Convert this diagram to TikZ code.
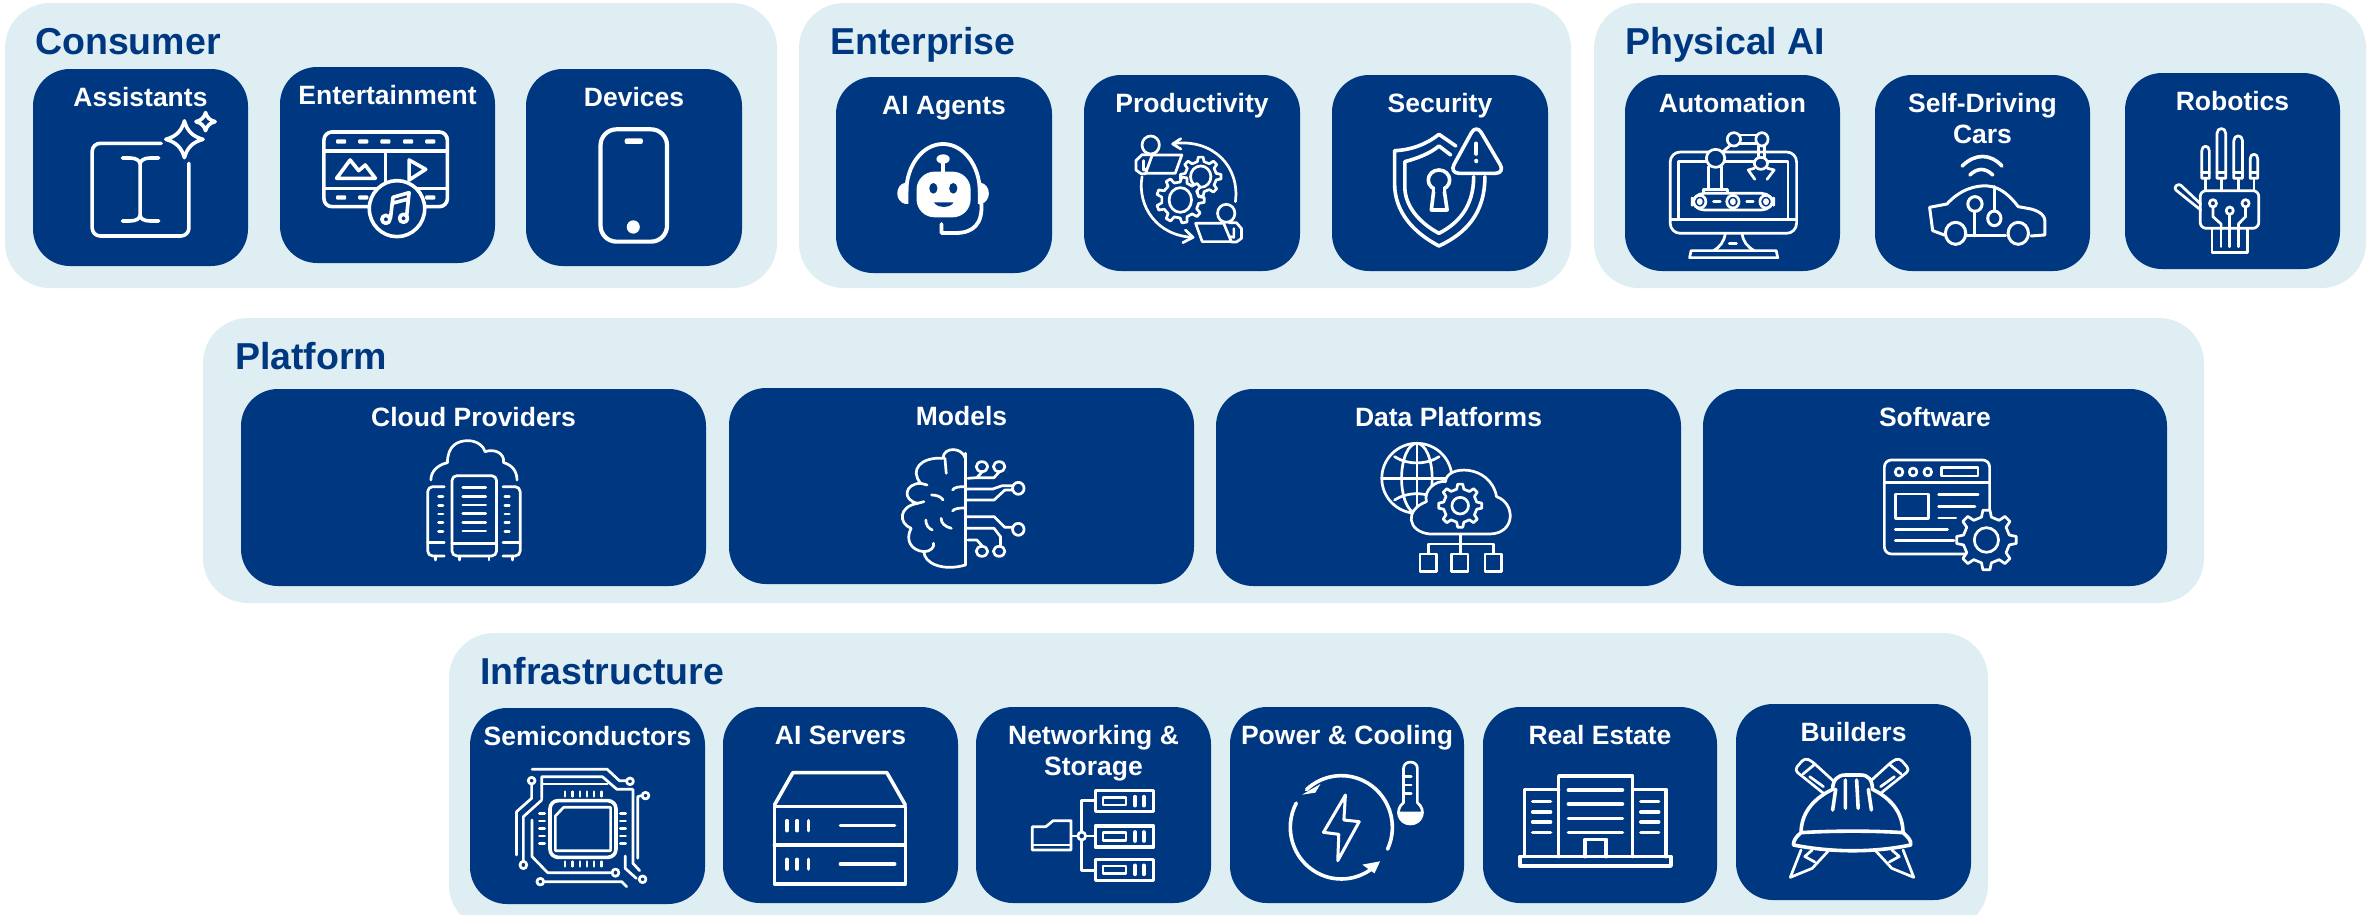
\documentclass[tikz,border=0pt]{standalone}
\usepackage{fontspec}
\setmainfont{Liberation Sans}
\definecolor{navy}{HTML}{003781}
\definecolor{pale}{HTML}{DFEEF2}
\tikzset{
  panelbox/.style={fill=pale,rounded corners=45pt,inner sep=0pt,outer sep=0pt},
  cardbox/.style={fill=navy,rounded corners=37pt,inner sep=0pt,outer sep=0pt},
  paneltitle/.style={anchor=base west,inner sep=0pt,text=navy,font=\fontsize{37.5}{44}\selectfont\bfseries},
  cardtitle/.style={anchor=base,inner sep=0pt,text=white,align=center,font=\fontsize{26.5}{31}\selectfont\bfseries},
  ic/.style={draw=white,line width=3.6pt,line cap=round,line join=round},
  icn/.style={ic,fill=navy},
  it/.style={draw=white,line width=2.7pt,line cap=round,line join=round},
  itn/.style={it,fill=navy},
  zoneA/.style={shift={(0,0)},xscale=.5038,yscale=.3333},
  zoneB/.style={shift={(790,0)},xscale=.5102,yscale=.3333},
  zoneC/.style={shift={(1580,0)},xscale=.5096,yscale=.3333},
  zoneD/.style={shift={(200,310)},xscale=.6378,yscale=.3333},
  zoneE/.style={shift={(1200,310)},xscale=.6378,yscale=.3333},
  zoneF/.style={shift={(440,630)},xscale=.4847,yscale=.3333},
  zoneG/.style={shift={(1200,630)},xscale=.5102,yscale=.3333},
}
\newcommand\ovalat[4]{(#1,#2) ellipse [x radius=#3,y radius=#4]}
\newcommand\panelat[5]{\node[panelbox,minimum width={#4-#2},minimum height={#5-#3}] (#1) at ({(#2+#4)/2},{(#3+#5)/2}) {};}
\newcommand\cardat[6]{\node[cardbox,minimum width={#4-#2},minimum height={#5-#3}] (#1) at ({(#2+#4)/2},{(#3+#5)/2}) {};
  \node[cardtitle] (#1Label) at ({(#2+#4)/2},{#3+37}) {#6};}
\newcommand\cardtwoat[6]{\node[cardbox,minimum width={#4-#2},minimum height={#5-#3}] (#1) at ({(#2+#4)/2},{(#3+#5)/2}) {};
  \node[cardtitle] (#1Label) at ({(#2+#4)/2},{#3+68}) {#6};}
% four-point star: cx cy rx ry
\newcommand\fourstar[4]{\draw[ic] (#1,#2-#4) .. controls ({#1+.15*#3},{#2-.45*#4}) and ({#1+.45*#3},{#2-.15*#4}) .. (#1+#3,#2) .. controls ({#1+.45*#3},{#2+.15*#4}) and ({#1+.15*#3},{#2+.45*#4}) .. (#1,#2+#4) .. controls ({#1-.15*#3},{#2+.45*#4}) and ({#1-.45*#3},{#2+.15*#4}) .. (#1-#3,#2) .. controls ({#1-.45*#3},{#2-.15*#4}) and ({#1-.15*#3},{#2-.45*#4}) .. cycle;}
% gear: cx cy rx ry teeth holerx holery style
\newcommand\gearat[8]{%
  \pgfmathsetmacro\gw{360/#5}%
  \draw[#8] ({#1+.78*#3*cos(-.27*\gw)},{#2+.78*#4*sin(-.27*\gw)})
    \foreach \gi in {1,...,#5} {
      \pgfextra{\pgfmathsetmacro\ga{(\gi-1)*\gw}}
      -- ({#1+#3*cos(\ga-.15*\gw)},{#2+#4*sin(\ga-.15*\gw)})
      -- ({#1+#3*cos(\ga+.15*\gw)},{#2+#4*sin(\ga+.15*\gw)})
      -- ({#1+.78*#3*cos(\ga+.27*\gw)},{#2+.78*#4*sin(\ga+.27*\gw)})
      -- ({#1+.78*#3*cos(\ga+\gw-.27*\gw)},{#2+.78*#4*sin(\ga+\gw-.27*\gw)})
    } -- cycle;
  \draw[#8] \ovalat{#1}{#2}{#6}{#7};}
\begin{document}
\begin{tikzpicture}[x=1pt,y=-1pt]
\useasboundingbox (0,0) rectangle (2379,914);
\clip (0,0) rectangle (2379,914);
% panels
\panelat{consumer}{5}{3}{777}{288}
\panelat{enterprise}{799}{3}{1571}{288}
\panelat{physical}{1594}{3}{2366}{288}
\panelat{platform}{203}{318}{2204}{603}
\panelat{infra}{449}{633}{1988}{930}
\node[paneltitle] (consumerTitle) at (35,54) {Consumer};
\node[paneltitle] (enterpriseTitle) at (830,54) {Enterprise};
\node[paneltitle] (physicalTitle) at (1625,54) {Physical AI};
\node[paneltitle] (platformTitle) at (235,369) {Platform};
\node[paneltitle] (infraTitle) at (480,684) {Infrastructure};
% cards
\cardat{assistants}{33}{69}{248}{266}{Assistants}
\cardat{entertainment}{280}{67}{495}{263}{Entertainment}
\cardat{devices}{526}{69}{742}{266}{Devices}
\cardat{agents}{836}{77}{1052}{273}{AI Agents}
\cardat{productivity}{1084}{75}{1300}{271}{Productivity}
\cardat{security}{1332}{75}{1548}{271}{Security}
\cardat{automation}{1625}{75}{1840}{271}{Automation}
\cardtwoat{selfdriving}{1875}{75}{2090}{271}{Self-Driving\\Cars}
\cardat{robotics}{2125}{73}{2340}{269}{Robotics}
\cardat{cloud}{241}{389}{706}{586}{Cloud Providers}
\cardat{models}{729}{388}{1194}{584}{Models}
\cardat{data}{1216}{389}{1681}{586}{Data Platforms}
\cardat{software}{1703}{389}{2167}{586}{Software}
\cardat{semis}{470}{708}{705}{904}{Semiconductors}
\cardat{servers}{723}{707}{958}{903}{AI Servers}
\cardtwoat{networking}{976}{707}{1211}{903}{Networking \&\\Storage}
\cardat{power}{1230}{707}{1464}{903}{Power \& Cooling}
\cardat{estate}{1483}{707}{1717}{903}{Real Estate}
\cardat{builders}{1736}{704}{1971}{900}{Builders}
% ---- Consumer icons
\begin{scope}[zoneA]
 \draw[ic,rounded corners=8pt] (320,430) -- (183,430) -- (183,708) -- (375,708) -- (375,490);
 \draw[ic] (243,474) -- (258,474) .. controls (270,474) and (278,482) .. (278,492) -- (278,645) .. controls (278,656) and (270,663) .. (258,663) -- (243,663);
 \draw[ic] (315,474) -- (298,474) .. controls (286,474) and (278,482) .. (278,492) (278,645) .. controls (278,656) and (286,663) .. (298,663) -- (315,663);
 \fourstar{366}{418}{37}{55}
 \fourstar{408}{365}{19}{27}
 % film
 \draw[ic,rounded corners=8pt] (643,396) rectangle (888,620);
 \draw[ic] (643,453) -- (888,453) (643,565) -- (888,565) (765,453) -- (765,545);
 \foreach \x in {677,721,765,810,854} {\fill[white,rounded corners=1pt] (\x-10,418) rectangle (\x+10,431);}
 \foreach \x in {677,721,854} {\fill[white,rounded corners=1pt] (\x-10,586) rectangle (\x+10,599);}
 \draw[ic] (668,535) -- (695,480) -- (712,512) -- (725,495) -- (745,535) -- cycle;
 \draw[ic] (812,480) -- (845,508) -- (812,540) -- cycle;
 \draw[icn] \ovalat{788}{626}{55}{84};
 \draw[ic] (775,655) -- (780,592) -- (812,578) -- (807,650) (778,610) -- (811,597);
 \draw[ic] \ovalat{766}{658}{8}{12} \ovalat{801}{655}{8}{12};
 % phone
 \draw[ic,line width=4.2pt,rounded corners=16pt] (1192,388) rectangle (1324,725);
 \fill[white,rounded corners=2pt] (1240,415) rectangle (1276,432);
 \fill[white] \ovalat{1257}{681}{13}{20};
\end{scope}
% ---- Enterprise icons
\begin{scope}[zoneB]
 % robot
 \draw[ic,line width=3.8pt] (228,575) arc[start angle=180,end angle=360,x radius=72,y radius=143];
 \fill[white] (226,548) .. controls (205,555) and (205,605) .. (226,612) -- (232,612) -- (232,548) -- cycle;
 \fill[white] (374,548) .. controls (395,555) and (395,605) .. (374,612) -- (368,612) -- (368,548) -- cycle;
 \draw[ic,line width=3.8pt] (375,610) .. controls (378,670) and (360,699) .. (325,699) -- (297,699) -- (297,672);
 \fill[white,rounded corners=18pt] (248,515) rectangle (354,652);
 \draw[ic] (300,490) -- (300,515);
 \fill[white] \ovalat{300}{477}{13}{14};
 \fill[navy] \ovalat{281}{565}{8}{16} \ovalat{320}{565}{8}{16};
 \fill[navy] (282,607) -- (320,607) .. controls (318,622) and (290,628) .. cycle;
 % productivity
 \draw[it] (755,430) .. controls (830,418) and (882,500) .. (873,605);
 \draw[it] (766,416) -- (750,432) -- (766,447);
 \draw[it] (690,530) .. controls (680,620) and (720,708) .. (790,712);
 \draw[it] (775,690) -- (790,712) -- (770,728);
 \gearat{805}{530}{40}{59}{8}{20}{32}{itn}
 \gearat{765}{600}{47}{69}{9}{22}{37}{itn}
 \draw[itn] \ovalat{707}{435}{17}{27};
 \draw[it] (706,464) -- (690,464) -- (678,482) -- (678,510) -- (688,521) -- (697,521);
 \draw[it] (693,482) -- (693,510) -- (710,502);
 \draw[itn] (710,465) -- (768,465) -- (755,520) -- (697,520) -- cycle;
 \draw[itn] \ovalat{855}{640}{17}{27};
 \draw[it] (860,668) -- (875,668) -- (885,686) -- (885,715) -- (875,726) -- (865,726);
 \draw[it] (870,686) -- (870,712) -- (855,708);
 \draw[itn] (795,670) -- (850,670) -- (865,725) -- (808,725) -- cycle;
 % shield
 \draw[ic] (1305,438) -- (1272,403) .. controls (1250,430) and (1220,450) .. (1185,452) -- (1185,550) .. controls (1185,640) and (1225,700) .. (1272,738) .. controls (1325,700) and (1362,640) .. (1362,530);
 \draw[ic] (1295,465) -- (1272,438) .. controls (1255,460) and (1230,475) .. (1205,485) -- (1205,560) .. controls (1205,620) and (1235,670) .. (1272,700) .. controls (1310,670) and (1340,620) .. (1340,530);
 \draw[ic,rounded corners=10pt] (1345,372) -- (1402,520) -- (1292,520) -- cycle;
 \draw[ic] (1345,430) -- (1345,462);
 \fill[white] \ovalat{1345}{483}{4}{7};
 \draw[ic] (1262,568) -- (1257,630) -- (1288,630) -- (1282,568);
 \draw[icn] \ovalat{1272}{540}{21}{30};
 \fill[navy] (1264,560) rectangle (1280,575);
\end{scope}
% ---- Physical AI icons
\begin{scope}[zoneC]
 \draw[it,rounded corners=10pt] (177,456) rectangle (425,700);
 \draw[it] (177,658) -- (425,658) (193,658) -- (193,485) -- (408,485) -- (408,658);
 \draw[it] (285,700) .. controls (283,725) and (275,740) .. (262,752) (318,700) .. controls (320,725) and (328,740) .. (342,752);
 \draw[it] (293,730) -- (307,730);
 \draw[it] (218,752) -- (385,752) -- (388,773) -- (215,773) -- cycle;
 \draw[it] (252,500) -- (252,568) (278,500) -- (278,568);
 \draw[itn] (242,568) rectangle (290,582);
 \draw[itn,rounded corners=12pt] (220,580) rectangle (380,630);
 \foreach \x in {235,300,365} {\draw[it] \ovalat{\x}{605}{12}{19} \ovalat{\x}{605}{3}{6};}
 \draw[it] (262,605) -- (275,605) (327,605) -- (340,605);
 \draw[it] (278,458) -- (298,432);
 \draw[itn] (315,405) -- (345,405) (315,430) -- (345,430);
 \draw[it] (350,438) -- (350,472) (362,438) -- (362,472);
 \draw[itn] \ovalat{266}{475}{18}{27};
 \draw[itn] \ovalat{302}{418}{13}{20} \ovalat{357}{418}{12}{20} \ovalat{355}{490}{13}{18};
 \draw[it] (342,505) -- (330,510) -- (343,538) (368,505) -- (381,510) -- (367,538);
 % car
 \draw[ic] (750,498) .. controls (775,460) and (805,460) .. (828,498);
 \draw[ic] (765,525) .. controls (780,503) and (795,503) .. (810,525);
 \draw[it,line width=3pt] (715,705) -- (692,692) -- (686,622) -- (720,612) .. controls (745,570) and (775,555) .. (800,558) .. controls (825,560) and (845,590) .. (860,620) -- (885,627) .. controls (905,635) and (912,650) .. (912,660) -- (912,705) -- (885,708);
 \draw[it,line width=3pt] (760,708) -- (835,708);
 \draw[it,line width=3pt] \ovalat{737}{700}{20}{33} \ovalat{860}{700}{20}{33};
 \draw[it,line width=3pt] \ovalat{775}{612}{14}{22} \ovalat{813}{655}{13}{22};
 \draw[it,line width=3pt] (775,634) -- (775,708) (813,633) -- (813,560);
 % hand
 \foreach \xa/\xb/\ya in {1220/1235/438,1250/1267/385,1283/1300/407,1315/1330/462} {
   \draw[it] (\xa,535) -- (\xa,\ya+15) .. controls (\xa,\ya-4) and (\xb,\ya-4) .. (\xb,\ya+15) -- (\xb,535) -- cycle;
   \draw[it] (\xa,518) -- (\xb,518);
   \draw[it] ({(\xa+\xb)/2},535) -- ({(\xa+\xb)/2},572);
 }
 \draw[it,rounded corners=6pt] (1217,572) -- (1332,572) -- (1332,685) -- (1217,685) -- cycle;
 \draw[it,rounded corners=3pt] (1218,630) -- (1165,565) -- (1175,550) -- (1218,612);
 \draw[it] (1240,685) -- (1240,758) -- (1310,758) -- (1310,685);
 \draw[it] (1258,690) -- (1258,740) (1275,643) -- (1275,740) (1292,690) -- (1292,740);
 \draw[it] (1242,622) -- (1242,650) -- (1258,672) -- (1258,690) (1306,622) -- (1306,650) -- (1292,672) -- (1292,690);
 \draw[it] \ovalat{1242}{610}{7}{11} \ovalat{1275}{632}{7}{11} \ovalat{1306}{610}{7}{11};
\end{scope}
% ---- Platform icons
\begin{scope}[zoneD]
 % cloud servers
 \draw[it] (362,510) .. controls (362,485) and (372,465) .. (388,458) .. controls (388,405) and (405,392) .. (420,392) .. controls (435,392) and (445,410) .. (447,425) .. controls (462,415) and (478,430) .. (476,458) .. controls (490,465) and (497,485) .. (497,510);
 \draw[it,rounded corners=5pt] (395,497) rectangle (465,738);
 \draw[it] (395,700) -- (465,700);
 \foreach \y in {533,559,585,611,637,663} {\draw[it] (412,\y) -- (448,\y);}
 \draw[it] (407,738) -- (407,750) (453,738) -- (453,750) (369,738) -- (369,750) (490,738) -- (490,750);
 \draw[it,rounded corners=5pt] (383,530) -- (357,530) -- (357,738) -- (383,738);
 \draw[it,rounded corners=5pt] (475,530) -- (502,530) -- (502,738) -- (475,738);
 \draw[it] (357,697) -- (383,697) (475,697) -- (502,697);
 \foreach \y in {560,586,612,638,664} {\draw[it] (374,\y) -- (381,\y) (478,\y) -- (485,\y);}
 % brain
 \draw[it] (1200,430) -- (1200,765);
 \draw[it] (1200,445) .. controls (1195,410) and (1165,410) .. (1165,445)
   .. controls (1130,440) and (1112,480) .. (1130,520)
   .. controls (1105,520) and (1100,570) .. (1125,580)
   .. controls (1095,590) and (1095,640) .. (1115,655)
   .. controls (1105,690) and (1115,722) .. (1135,725)
   .. controls (1135,760) and (1165,785) .. (1200,765);
 \draw[it] (1168,445) -- (1170,490) (1130,520) -- (1140,525) (1125,580) -- (1135,575);
 \draw[it] (1147,555) .. controls (1155,555) and (1162,560) .. (1165,570);
 \draw[it] (1138,630) .. controls (1138,645) and (1142,655) .. (1148,660);
 \draw[it] (1162,625) .. controls (1162,640) and (1168,650) .. (1178,655);
 \draw[it] (1135,725) .. controls (1145,725) and (1152,712) .. (1150,700);
 \draw[it] (1180,540) .. controls (1182,532) and (1190,530) .. (1198,530);
 \draw[it] (1180,603) .. controls (1182,596) and (1190,594) .. (1198,594);
 \draw[it] (1204,505) -- (1218,503) -- (1226,486) (1218,503) -- (1245,503) -- (1253,486);
 \draw[it] (1200,537) -- (1243,537) -- (1258,527) -- (1274,527);
 \draw[it] (1200,570) -- (1245,570) -- (1262,540) -- (1274,540);
 \draw[it] (1200,620) -- (1245,620) -- (1262,652) -- (1274,652);
 \draw[it] (1200,655) -- (1245,655) -- (1255,680) -- (1255,706);
 \draw[it] (1204,690) -- (1218,690) -- (1226,707);
 \draw[it] \ovalat{1226}{470}{9}{15} \ovalat{1253}{470}{9}{15} \ovalat{1283}{535}{9}{18} \ovalat{1283}{658}{9}{18} \ovalat{1226}{724}{9}{15} \ovalat{1253}{724}{9}{15};
\end{scope}
\begin{scope}[zoneE]
 % globe & cloud
 \draw[it] \ovalat{340}{505}{55}{105};
 \draw[it] \ovalat{340}{505}{24}{105};
 \draw[it] (340,400) -- (340,600) (287,505) -- (393,505);
 \draw[it] (305,440) .. controls (325,465) and (355,465) .. (375,440);
 \draw[it] (305,570) .. controls (325,545) and (355,545) .. (375,570);
 \draw[itn] (360,672) .. controls (325,665) and (320,600) .. (355,575) .. controls (350,540) and (370,510) .. (385,515) .. controls (385,465) and (455,460) .. (465,560) .. controls (495,580) and (495,670) .. (455,672) -- cycle;
 \gearat{408}{587}{34}{65}{8}{13}{25}{it}
 \draw[it] (408,675) -- (408,730) (358,730) -- (358,702) -- (460,702) -- (460,730);
 \draw[it] (345,732) rectangle (371,785) (394,732) rectangle (420,785) (447,732) rectangle (473,785);
 % software
 \draw[it,rounded corners=7pt] (1073,450) rectangle (1238,732);
 \draw[it] (1073,518) -- (1238,518);
 \draw[it] \ovalat{1096}{486}{6}{12} \ovalat{1118}{486}{6}{12} \ovalat{1141}{486}{6}{12};
 \draw[it] (1163,472) rectangle (1220,498) (1090,552) rectangle (1142,625);
 \draw[it] (1158,553) -- (1220,553) (1158,590) -- (1215,590) (1158,624) -- (1185,624) (1090,658) -- (1172,658) (1090,692) -- (1182,692);
 \gearat{1233}{690}{47}{90}{8}{19}{37}{itn}
\end{scope}
% ---- Infrastructure icons
\begin{scope}[zoneF]
 % chip
 \draw[ic,rounded corners=8pt] (227,512) rectangle (363,682);
 \draw[it] (255,532) -- (352,532) -- (352,662) -- (238,662) -- (238,558) -- cycle;
 \foreach \x in {258,274,289,303,318,333} {\draw[it] (\x,485) -- (\x,499) (\x,695) -- (\x,709);}
 \foreach \y in {550,573,595,618,640} {\draw[it] (205,\y) -- (216,\y) (372,\y) -- (383,\y);}
 \draw[it] (190,418) -- (345,418) -- (370,452) -- (385,452);
 \draw[it] (189,462) -- (189,505) -- (158,545) -- (158,675);
 \draw[it] (210,505) -- (210,440) -- (335,440) -- (365,478) -- (398,478) -- (398,685) -- (398,700) -- (412,722);
 \draw[it] (212,462) -- (345,462);
 \draw[it] (210,510) -- (172,560) -- (172,693);
 \draw[it] (415,497) -- (408,500) -- (408,685);
 \draw[it] (190,570) -- (190,680) -- (222,728) -- (352,728);
 \draw[it] (382,678) -- (382,715) -- (405,745);
 \draw[it] (216,755) -- (375,755) -- (385,770);
 \draw[it] \ovalat{392}{454}{7}{10} \ovalat{189}{452}{7}{10} \ovalat{424}{497}{7}{10} \ovalat{172}{705}{7}{11} \ovalat{362}{728}{7}{11} \ovalat{418}{748}{7}{10} \ovalat{207}{755}{7}{10};
 % server
 \draw[ic] (690,525) -- (728,428) -- (922,428) -- (960,525);
 \draw[ic] (690,530) rectangle (960,762);
 \draw[ic] (690,645) -- (960,645);
 \foreach \x in {716,737,760} {\draw[ic] (\x,572) -- (\x,602) (\x,688) -- (\x,717);}
 \draw[ic] (826,587) -- (938,587) (826,702) -- (938,702);
 % networking
 \foreach \y in {482,588,688} {
   \draw[ic] (1352,\y) rectangle (1472,\y+63);
   \draw[it] (1368,\y+20) rectangle (1415,\y+43);
   \draw[ic] (1434,\y+18) -- (1434,\y+45) (1452,\y+18) -- (1452,\y+45);
 }
 \draw[it] (1352,512) -- (1324,512) -- (1324,722) -- (1352,722) (1302,618) -- (1352,618);
 \draw[itn] \ovalat{1324}{618}{8}{12};
 \draw[it] (1222,590) -- (1250,590) -- (1265,572) -- (1302,572) -- (1302,660) -- (1222,660) -- cycle;
 \draw[it] (1222,645) -- (1302,645);
\end{scope}
\begin{scope}[zoneG]
 % power
 \draw[ic] ({277+100*cos(25)},{592+155*sin(25)}) arc[start angle=25,end angle=-133,x radius=100,y radius=155];
 \fill[white] (200,494) -- (236,462) -- (226,488) -- cycle;
 \draw[ic] ({277+100*cos(208)},{592+155*sin(208)}) arc[start angle=208,end angle=52,x radius=100,y radius=155];
 \fill[white] (353,694) -- (318,704) -- (342,730) -- cycle;
 \draw[it,line width=3pt] (285,495) -- (242,607) -- (272,613) -- (270,692) -- (312,575) -- (282,570) -- cycle;
 \draw[it] (399,518) -- (399,415) .. controls (399,390) and (426,390) .. (426,415) -- (426,518) .. controls (445,540) and (435,582) .. (412,582) .. controls (390,582) and (380,540) .. (399,518);
 \fill[white] (389,545) .. controls (392,570) and (400,582) .. (412,582) .. controls (425,582) and (434,570) .. (436,545) -- cycle;
 \draw[it] (399,440) -- (414,440) (399,465) -- (414,465) (399,490) -- (414,490);
 % real estate
 \draw[ic] (703,680) -- (703,438) -- (848,438) -- (848,680);
 \draw[ic] (703,478) -- (636,478) -- (636,680) (848,478) -- (913,478) -- (913,680);
 \draw[ic] (627,680) rectangle (923,708);
 \draw[ic] (755,680) -- (755,628) -- (796,628) -- (796,680);
 \foreach \y in {480,522,565,607} {\draw[ic] (722,\y) -- (828,\y);}
 \foreach \y in {515,546,576,607} {\draw[ic] (652,\y) -- (687,\y) (864,\y) -- (899,\y);}
 % builders: pencils
 \draw[it,rounded corners=4pt] (1222,490) -- (1165,420) -- (1185,384) -- (1198,392) -- (1248,462);
 \draw[it] (1182,432) -- (1204,404) (1195,440) -- (1222,470);
 \draw[it] (1232,662) -- (1200,715) -- (1157,742) -- (1178,660);
 \draw[it] (1186,680) -- (1205,696) (1200,660) -- (1185,680);
 \draw[it,rounded corners=4pt] (1334,490) -- (1391,420) -- (1371,384) -- (1358,392) -- (1308,462);
 \draw[it] (1374,432) -- (1352,404) (1361,440) -- (1334,470);
 \draw[it] (1324,662) -- (1356,715) -- (1399,742) -- (1378,660);
 \draw[it] (1370,680) -- (1351,696) (1356,660) -- (1371,680);
 \draw[icn] (1178,610) .. controls (1178,540) and (1210,500) .. (1240,478) .. controls (1240,450) and (1250,435) .. (1265,435) -- (1295,435) .. controls (1310,435) and (1318,450) .. (1318,478) .. controls (1348,500) and (1378,540) .. (1378,610) -- cycle;
 \draw[ic] (1240,540) -- (1246,478) (1265,535) -- (1265,450) (1290,535) -- (1287,450) (1316,540) -- (1310,478);
 \draw[icn] (1178,608) .. controls (1240,602) and (1320,602) .. (1378,608) .. controls (1385,618) and (1395,630) .. (1393,645) .. controls (1320,668) and (1240,668) .. (1163,645) .. controls (1163,630) and (1170,618) .. cycle;
\end{scope}
\end{tikzpicture}
\end{document}
